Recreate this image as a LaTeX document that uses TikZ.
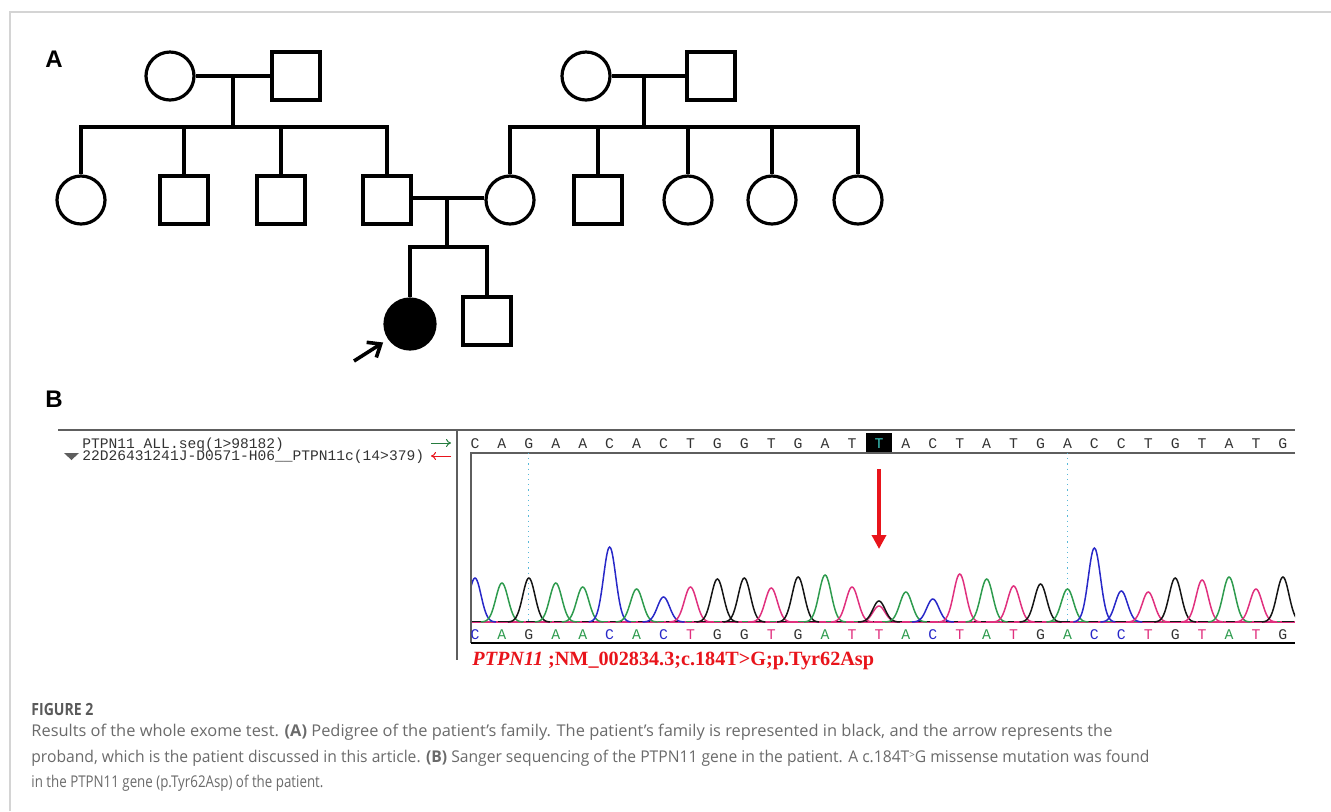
\documentclass[tikz,border=0pt]{standalone}
\usepackage{fontspec}
\setmainfont{Liberation Serif}
\setsansfont{Open Sans}
\setmonofont{Liberation Mono}
\newfontfamily\panelfont{Liberation Sans}
\usetikzlibrary{arrows.meta}

\definecolor{frameGray}{HTML}{D4D4D4}
\definecolor{capGray}{HTML}{6A6A6A}
\definecolor{ruleGray}{HTML}{5E5E5E}
\definecolor{baseA}{HTML}{2E9B4E}
\definecolor{baseC}{HTML}{2828C8}
\definecolor{baseG}{HTML}{151515}
\definecolor{baseT}{HTML}{E0307E}
\definecolor{mutRed}{HTML}{E8141B}
\definecolor{guideCyan}{HTML}{58B8D8}
\definecolor{hiCyan}{HTML}{3CC8C0}
\definecolor{seqGray}{HTML}{333333}

\tikzset{
  ped/.style={draw=black, line width=1.6pt},
  female/.style={ped, circle, minimum size=24pt, inner sep=0pt},
  male/.style={ped, rectangle, minimum size=24pt, inner sep=0pt},
  pline/.style={line width=1.6pt, black},
  panel/.style={font=\panelfont\bfseries\fontsize{12pt}{12pt}\selectfont, anchor=base west, inner sep=0pt},
  seqtxt/.style={font=\ttfamily\fontsize{7.4pt}{7.4pt}\selectfont, inner sep=0pt},
  hdrtxt/.style={font=\ttfamily\fontsize{7.3pt}{7.3pt}\selectfont, anchor=base west, inner sep=0pt, text=seqGray},
  box/.style={draw=ruleGray, line width=0.8pt},
  captxt/.style={font=\sffamily\fontsize{8.1pt}{9pt}\selectfont, text=capGray, anchor=base west, inner sep=0pt},
}

\begin{document}
\begin{tikzpicture}[x=0.5pt,y=-0.5pt]
\useasboundingbox (0,0) rectangle (1331,811);

% page frame
\draw[frameGray, line width=1pt] (10,811) -- (10,12) -- (1331,12);

% ---------------- Panel A: pedigree ----------------
\node[panel] (labA) at (45,67) {A};

% generation I
\node[female] (gmL) at (170,76) {};
\node[male]   (gfL) at (296,76) {};
\node[female] (gmR) at (586,76) {};
\node[male]   (gfR) at (711,76) {};

% generation II
\node[female] (a1) at (81,200) {};
\node[male]   (a2) at (184,200) {};
\node[male]   (a3) at (281,200) {};
\node[male]   (dad) at (387,200) {};
\node[female] (mom) at (510,200) {};
\node[male]   (b2) at (598,200) {};
\node[female] (b3) at (688,200) {};
\node[female] (b4) at (772,200) {};
\node[female] (b5) at (858,200) {};

% generation III
\node[female, fill=black, minimum size=25pt] (pro) at (410,324) {};
\node[male] (bro) at (487,321) {};

\coordinate (mateL) at (233,76);
\coordinate (sibL) at (233,127);
\coordinate (mateR) at (644,76);
\coordinate (sibR) at (644,127);
\coordinate (mateC) at (447,198);
\coordinate (sibC) at (447,247);

% left family
\draw[pline] (gmL) -- (gfL);
\draw[pline] (mateL) -- (sibL);
\draw[pline] (a1.north) -- (a1.north |- sibL) -- (dad.north |- sibL) -- (dad.north);
\draw[pline] (a2.north) -- (a2.north |- sibL);
\draw[pline] (a3.north) -- (a3.north |- sibL);

% right family
\draw[pline] (gmR) -- (gfR);
\draw[pline] (mateR) -- (sibR);
\draw[pline] (mom.north) -- (mom.north |- sibR) -- (b5.north |- sibR) -- (b5.north);
\draw[pline] (b2.north) -- (b2.north |- sibR);
\draw[pline] (b3.north) -- (b3.north |- sibR);
\draw[pline] (b4.north) -- (b4.north |- sibR);

% parents of the proband
\draw[pline] (dad.east |- mateC) -- (mom.west |- mateC);
\draw[pline] (mateC) -- (sibC);
\draw[pline] (pro.north) -- (pro.north |- sibC) -- (bro.north |- sibC) -- (bro.north);

% proband arrow
\coordinate (arrTail) at (354,361);
\draw[pline, line width=1.8pt, -{Straight Barb[length=5.5pt,width=9pt,line width=1.8pt]}, shorten >=3pt] (arrTail) -- (pro.215);

% ---------------- Panel B: Sanger trace ----------------
\node[panel] (labB) at (45,407) {B};

% window frame
\draw[ruleGray, line width=1.2pt] (58,430) -- (1295,430);
\draw[box] (457,431) -- (457,660);
\draw[box] (1295,453) -- (471,453) -- (471,643);
\draw[black, line width=1pt] (471,643) -- (1295,643);

% track names
\node[hdrtxt] (ref) at (82,448) {PTPN11 ALL.seq(1>98182)};
\node[hdrtxt] (read) at (82,460) {22D26431241J-D0571-H06\_\_PTPN11c(14>379)};
\fill[ruleGray] (64,453) -- (79,453) -- (71.5,460) -- cycle;
\coordinate (gA) at (431,443); \coordinate (gB) at (451,443);
\coordinate (rA) at (451,456); \coordinate (rB) at (431,456);
\draw[baseA!80!black, line width=0.5pt, -{To[length=2.5pt,width=4pt]}] (gA) -- (gB);
\draw[mutRed, line width=0.5pt, -{To[length=2.5pt,width=4pt]}] (rA) -- (rB);

% highlighted base
\fill[black] (866,433) rectangle (892,452);

% reference sequence and called bases
\foreach \b/\bc [count=\k from 0] in {C/baseC,A/baseA,G/seqGray,A/baseA,A/baseA,C/baseC,A/baseA,C/baseC,
    T/baseT,G/seqGray,G/seqGray,T/baseT,G/seqGray,A/baseA,T/baseT,T/baseT,A/baseA,C/baseC,T/baseT,
    A/baseA,T/baseT,G/seqGray,A/baseA,C/baseC,C/baseC,T/baseT,G/seqGray,T/baseT,A/baseA,T/baseT,G/seqGray} {
  \pgfmathsetmacro\xc{475+26.93*\k}
  \ifnum\k=15
    \node[seqtxt, text=hiCyan] (top\k) at (\xc,444) {\b};
  \else
    \node[seqtxt, text=seqGray] (top\k) at (\xc,444) {\b};
  \fi
  \node[seqtxt, text=\bc] (bot\k) at (\xc,635) {\b};
}

% guide lines
\draw[guideCyan, dotted, line width=0.6pt] (top2.south |- 0,453) -- (top2.south |- 0,622);
\draw[guideCyan, dotted, line width=0.6pt] (top22.south |- 0,453) -- (top22.south |- 0,622);

% trace
\begin{scope}
\clip (472,454) rectangle (1295,623);
\draw[baseT, line width=0.6pt] (470,622) -- (1295,622);
\draw[baseG, line width=0.6pt, dash pattern=on 6pt off 8pt] (470,621.5) -- (1295,621.5);
\draw[baseA, line width=0.5pt, dash pattern=on 3pt off 11pt, dash phase=4pt] (470,621.5) -- (1295,621.5);
\foreach \k/\tp/\col in {0/578/baseC, 1/583/baseA, 2/578/baseG, 3/583/baseA, 4/587/baseA,
    5/547/baseC, 6/589/baseA, 7/597/baseC, 8/587/baseT, 9/579/baseG, 10/578/baseG,
    11/588/baseT, 12/577/baseG, 13/575/baseA, 14/587/baseT, 15/606/baseT, 15/601/baseG,
    16/592/baseA, 17/599/baseC, 18/574/baseT, 19/579/baseA, 20/586/baseT, 21/584/baseG,
    22/589/baseA, 23/548/baseC, 24/591/baseC, 25/592/baseT, 26/578/baseG, 27/580/baseT,
    28/577/baseA, 29/589/baseT, 30/577/baseG} {
  \pgfmathsetmacro\xc{475+26.93*\k}
  \pgfmathsetmacro\xa{\xc-21}
  \pgfmathsetmacro\xb{\xc+21}
  \draw[\col, line width=0.75pt] plot[domain=\xa:\xb, samples=41, smooth]
    (\x, {622-(622-\tp)*exp(-((\x-\xc)/8.6)^2)});
}
\end{scope}

% mutation arrow
\coordinate (mA) at (879,469);
\coordinate (mB) at (879,549);
\draw[mutRed, line width=1.7pt, -{Triangle[length=7pt,width=7pt]}] (mA) -- (mB);

% variant label
\node[anchor=base west, inner sep=0pt, text=mutRed, font=\rmfamily\bfseries\fontsize{10.1pt}{10pt}\selectfont] (var) at (472,665)
  {\textit{PTPN11} ;NM\_002834.3;c.184T>G;p.Tyr62Asp};

% ---------------- caption ----------------
\node[anchor=base west, inner sep=0pt, text=capGray!85!black, font=\sffamily\bfseries\fontsize{8.4pt}{9pt}\selectfont] (figno) at (31,715) {\resizebox{31pt}{\height}{FIGURE 2}};
\node[captxt] (cap1) at (31,736) {\resizebox{540.5pt}{\height}{Results of the whole exome test. \textbf{(A)} Pedigree of the patient’s family. The patient’s family is represented in black, and the arrow represents the}};
\node[captxt] (cap2) at (31,762) {\resizebox{559pt}{\height}{proband, which is the patient discussed in this article. \textbf{(B)} Sanger sequencing of the PTPN11 gene in the patient. A c.184T\raisebox{0.45ex}{\fontsize{5pt}{5pt}\selectfont >}G missense mutation was found}};
\node[captxt] (cap3) at (31,787) {\resizebox{146pt}{\height}{in the PTPN11 gene (p.Tyr62Asp) of the patient.}};
\end{tikzpicture}
\end{document}
